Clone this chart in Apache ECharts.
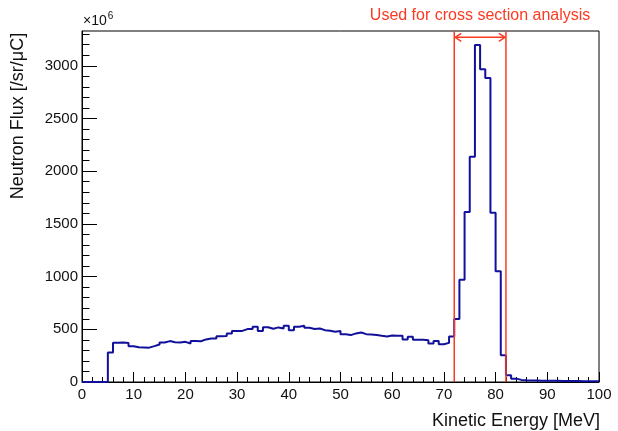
<!DOCTYPE html>
<html>
<head>
<meta charset="utf-8">
<title>Neutron flux spectrum</title>
<script src="https://cdn.jsdelivr.net/npm/echarts@6/dist/echarts.min.js"></script>
<style>
  html, body { margin: 0; padding: 0; background: #ffffff; }
  #chart { width: 618px; height: 431px; }
</style>
</head>
<body>
<div id="chart"></div>
<script>
// Neutron flux per 1 MeV bin, in units of 10^6 /sr/µC (bins 0-1, 1-2, ... 99-100 MeV)
const fluxValues = [
  0, 0, 0, 0, 0, 280, 372, 375, 370, 340,
  330, 328, 326, 340, 356, 375, 388, 378, 374, 381,
  365, 388, 386, 404, 413, 413, 435, 436, 461, 483,
  485, 502, 503, 524, 483, 520, 505, 518, 508, 534,
  492, 524, 534, 515, 502, 508, 492, 486, 477, 483,
  454, 445, 461, 470, 454, 451, 445, 438, 432, 441,
  438, 438, 403, 429, 400, 400, 397, 365, 390, 358,
  371, 432, 597, 970, 1612, 2136, 3197, 2968, 2883, 1605,
  1050, 254, 64, 32, 20, 16, 15, 14, 13, 12,
  12, 11, 10, 10, 9, 9, 8, 8, 8, 7
];
const binWidth = 1;              // MeV
const energyRange = [0, 100];    // MeV
const fluxAxisMax = 3330;        // 10^6 /sr/µC
const yMajorTicks = [0, 500, 1000, 1500, 2000, 2500, 3000];
const yMinorTicks = [100, 200, 300, 400, 600, 700, 800, 900, 1100, 1200, 1300, 1400,
  1600, 1700, 1800, 1900, 2100, 2200, 2300, 2400, 2600, 2700, 2800, 2900, 3100, 3200, 3300];
const cutWindow = [72, 82];      // MeV range used in the cross section analysis
const cutArrowLevel = 3270;
const cutLabel = 'Used for cross section analysis';
const xTitle = 'Kinetic Energy [MeV]';
const yTitle = 'Neutron Flux [/sr/μC]';

const FONT = '"Liberation Sans", Arial, Helvetica, sans-serif';
const CUT_RED = '#fb3a22';
const HIST_BLUE = '#10109a';

// Step outline: each bin's lower edge carries its content; close at the upper edge of the last bin.
const histPoints = fluxValues.map((v, i) => [energyRange[0] + i * binWidth, v]);
histPoints.push([energyRange[0] + fluxValues.length * binWidth, fluxValues[fluxValues.length - 1]]);

const chart = echarts.init(document.getElementById('chart'), null, { renderer: 'canvas' });

const plainNumber = v => String(Math.round(v));

chart.setOption({
  animation: false,
  backgroundColor: '#ffffff',
  grid: {
    left: 82, right: 19, top: 31, bottom: 49,
    show: true, borderColor: '#000000', borderWidth: 1, backgroundColor: 'transparent'
  },
  xAxis: {
    type: 'value',
    min: energyRange[0], max: energyRange[1], interval: 10,
    axisLine: { show: true, onZero: false, lineStyle: { color: '#000000', width: 1 } },
    axisTick: { show: true, inside: true, length: 10, lineStyle: { color: '#000000', width: 1 } },
    minorTick: { show: true, splitNumber: 5, length: 5, lineStyle: { color: '#000000', width: 1 } },
    axisLabel: { margin: 5, color: '#111111', fontFamily: FONT, fontSize: 15, formatter: plainNumber },
    splitLine: { show: false }
  },
  yAxis: [
    {
      type: 'value', position: 'left', offset: 0,
      min: 0, max: fluxAxisMax,
      axisLine: { show: true, onZero: false, lineStyle: { color: '#000000', width: 1 } },
      axisTick: { show: true, inside: true, length: 15, customValues: yMajorTicks,
        lineStyle: { color: '#000000', width: 1 } },
      axisLabel: { customValues: yMajorTicks, margin: 4, color: '#111111', fontFamily: FONT,
        fontSize: 15, formatter: plainNumber },
      splitLine: { show: false }
    },
    {
      type: 'value', position: 'left', offset: 0,
      min: 0, max: fluxAxisMax,
      axisLine: { show: false },
      axisTick: { show: true, inside: true, length: 7.5, customValues: yMinorTicks,
        lineStyle: { color: '#000000', width: 1 } },
      axisLabel: { show: false },
      splitLine: { show: false }
    }
  ],
  series: [
    {
      name: 'flux',
      type: 'line',
      step: 'end',
      data: histPoints,
      xAxisIndex: 0, yAxisIndex: 0,
      showSymbol: false,
      clip: false,
      lineStyle: { color: HIST_BLUE, width: 2 },
      z: 3
    },
    {
      // Energy window used for the cross section analysis: two bounds, a double arrow and a caption
      name: 'cut',
      type: 'custom',
      xAxisIndex: 0, yAxisIndex: 0,
      clip: false,
      z: 4,
      data: [[cutWindow[0], cutWindow[1]]],
      renderItem: function (params, api) {
        const lo = api.value(0), hi = api.value(1);
        const loBottom = api.coord([lo, 0]);
        const loTop = api.coord([lo, fluxAxisMax]);
        const hiBottom = api.coord([hi, 0]);
        const hiTop = api.coord([hi, fluxAxisMax]);
        const aL = api.coord([lo, cutArrowLevel]);
        const aR = api.coord([hi, cutArrowLevel]);
        const mid = api.coord([(lo + hi) / 2, fluxAxisMax]);
        const lineStyle = { stroke: CUT_RED, lineWidth: 1.5, fill: null };
        const head = 6, half = 4;
        return {
          type: 'group',
          children: [
            { type: 'line', shape: { x1: loBottom[0], y1: loBottom[1], x2: loTop[0], y2: loTop[1] }, style: lineStyle },
            { type: 'line', shape: { x1: hiBottom[0], y1: hiBottom[1], x2: hiTop[0], y2: hiTop[1] }, style: lineStyle },
            { type: 'line', shape: { x1: aL[0] + 1, y1: aL[1], x2: aR[0] - 1, y2: aR[1] }, style: lineStyle },
            { type: 'polyline', shape: { points: [[aL[0] + 1 + head, aL[1] - half], [aL[0] + 1, aL[1]], [aL[0] + 1 + head, aL[1] + half]] }, style: lineStyle },
            { type: 'polyline', shape: { points: [[aR[0] - 1 - head, aR[1] - half], [aR[0] - 1, aR[1]], [aR[0] - 1 - head, aR[1] + half]] }, style: lineStyle },
            {
              type: 'text',
              x: mid[0], y: mid[1] - 15,
              style: { text: cutLabel, fill: CUT_RED, font: '16px ' + FONT, textAlign: 'center', textVerticalAlign: 'middle' }
            }
          ]
        };
      }
    }
  ],
  graphic: [
    {
      type: 'text', x: 18, y: 116, rotation: Math.PI / 2,
      style: { text: yTitle, fill: '#111111', font: '18px ' + FONT, textAlign: 'center', textVerticalAlign: 'middle' }
    },
    {
      type: 'text', x: 600, y: 421,
      style: { text: xTitle, fill: '#111111', font: '18px ' + FONT, textAlign: 'right', textVerticalAlign: 'middle' }
    },
    {
      type: 'text', x: 83, y: 28,
      style: {
        text: '{m|×10}{e|6}',
        textVerticalAlign: 'bottom',
        rich: {
          m: { fontFamily: FONT, fontSize: 14, fill: '#111111', verticalAlign: 'bottom' },
          e: { fontFamily: FONT, fontSize: 10, fill: '#111111', verticalAlign: 'top', padding: [0, 0, 7, 1] }
        }
      }
    }
  ]
});
</script>
</body>
</html>
